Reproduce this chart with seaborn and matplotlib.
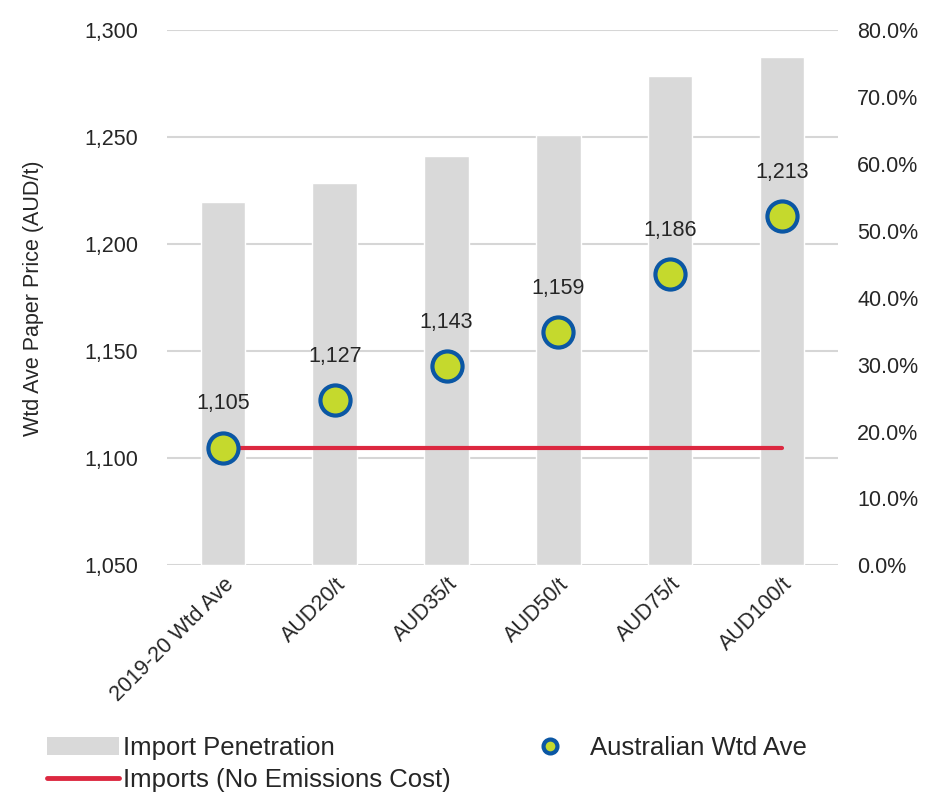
import numpy as np
import pandas as pd
import seaborn as sns
import matplotlib.pyplot as plt
from matplotlib.lines import Line2D
from matplotlib.patches import Patch
from matplotlib.ticker import FuncFormatter

# Chart data
scenarios = ["2019-20 Wtd Ave", "AUD20/t", "AUD35/t", "AUD50/t", "AUD75/t", "AUD100/t"]
import_penetration = [54.3, 57.2, 61.2, 64.3, 73.1, 76.0]   # % (right axis)
aus_wtd_ave = [1105, 1127, 1143, 1159, 1186, 1213]          # AUD/t (left axis)
imports_no_cost = [1105, 1105, 1105, 1105, 1105, 1105]      # AUD/t

df = pd.DataFrame({"scenario": scenarios, "pen": import_penetration,
                   "price": aus_wtd_ave, "imports": imports_no_cost})
df["x"] = np.arange(len(df))

sns.set_style("white")
plt.rcParams['font.family'] = ['Liberation Sans', 'DejaVu Sans']

FS = 15.5
TXT = "#262626"

fig = plt.figure(figsize=(9.34, 7.94), dpi=100)
ax = fig.add_axes([0.179, 0.288, 0.718, 0.674])

# left axis: grid + ticks
ax.set_ylim(1050, 1300)
ax.set_yticks([1050, 1100, 1150, 1200, 1250, 1300])
ax.yaxis.set_major_formatter(FuncFormatter(lambda v, p: f"{v:,.0f}"))
ax.grid(axis="y", color="#D6D6D6", linewidth=1.5)
ax.set_axisbelow(True)
ax.set_xlim(-0.5, len(df) - 0.5)
ax.set_ylabel("Wtd Ave Paper Price (AUD/t)", fontsize=FS, labelpad=29, color=TXT)

# bars on the right axis
ax2 = ax.twinx()
sns.barplot(data=df, x="scenario", y="pen", color="#D9D9D9", saturation=1,
            width=0.4, ax=ax2)
ax2.set_ylim(0, 80)
ax2.set_yticks(range(0, 81, 10))
ax2.yaxis.set_major_formatter(FuncFormatter(lambda v, p: f"{v:.1f}%"))
ax2.set_ylabel("")
ax2.set_xlabel("")

# points and line on top
ax3 = ax.twinx()
ax3.set_ylim(1050, 1300)
sns.lineplot(data=df, x="x", y="imports", color="#DC2840", linewidth=3, ax=ax3)
sns.scatterplot(data=df, x="x", y="price", s=470, color="#C5D92D",
                edgecolor="#0B57A4", linewidth=3, zorder=5, ax=ax3)
for xi, v in zip(df["x"], df["price"]):
    ax3.annotate(f"{v:,}", (xi, v), xytext=(0, 24), textcoords="offset points",
                 ha="center", va="bottom", fontsize=FS, color=TXT)
ax3.set_xlim(-0.5, len(df) - 0.5)
ax3.set_yticks([])
ax3.set_ylabel("")
ax3.set_xlabel("")

ax.set_xticks(df["x"])
ax.set_xticklabels(scenarios, rotation=45, ha="right", rotation_mode="anchor")
ax.set_xlabel("")
for a in (ax, ax2, ax3):
    for s in a.spines.values():
        s.set_visible(False)
    a.tick_params(length=0, labelsize=FS, colors=TXT)
ax.tick_params(axis="y", pad=21)
ax.tick_params(axis="x", pad=6)
ax2.tick_params(axis="y", pad=14)

# legend
handles = [Patch(facecolor="#D9D9D9", edgecolor="none"),
           Line2D([], [], color="#DC2840", linewidth=3.5),
           Line2D([], [], marker="o", linestyle="none", markersize=10,
                  markerfacecolor="#C5D92D", markeredgecolor="#0B57A4",
                  markeredgewidth=3)]
labels = ["Import Penetration", "Imports (No Emissions Cost)", "Australian Wtd Ave"]
fig.legend(handles, labels, loc="lower left", bbox_to_anchor=(0.026, -0.026), ncol=2,
           frameon=False, fontsize=18.5, handlelength=2.8, handletextpad=0.15,
           columnspacing=2.45, labelspacing=0.3, labelcolor=TXT)

plt.savefig("out.png", dpi=100)
